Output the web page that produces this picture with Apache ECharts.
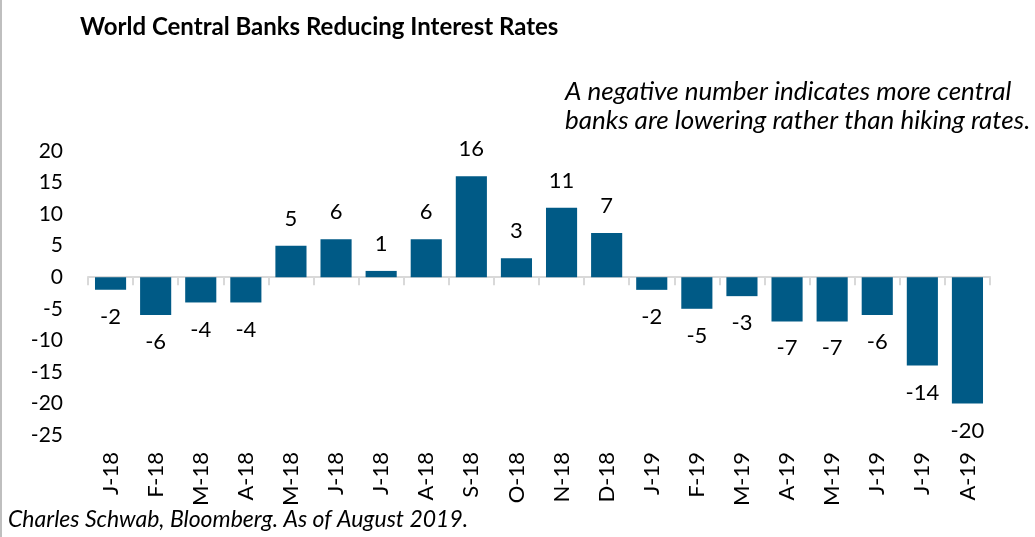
<!DOCTYPE html>
<html><head><meta charset="utf-8">
<script src="https://cdn.jsdelivr.net/npm/echarts@6/dist/echarts.min.js"></script>
<style>html,body{margin:0;padding:0;background:#fff}#c{width:1035px;height:537px}</style>
</head><body><div id="c"></div>
<script>
const categories = ['J-18','F-18','M-18','A-18','M-18','J-18','J-18','A-18','S-18','O-18','N-18','D-18','J-19','F-19','M-19','A-19','M-19','J-19','J-19','A-19'];
const values = [-2,-6,-4,-4,5,6,1,6,16,3,11,7,-2,-5,-3,-7,-7,-6,-14,-20];
const yTicks = {min:-25, max:20, interval:5};
const titleText = 'World Central Banks Reducing Interest Rates';
const noteText = 'A negative number indicates more central\nbanks are lowering rather than hiking rates.';
const sourceText = 'Charles Schwab, Bloomberg. As of August 2019.';

const FONT = 'Lato, "Open Sans", sans-serif';
const chart = echarts.init(document.getElementById('c'));
chart.setOption({
  animation:false,
  textStyle:{fontFamily:FONT},
  grid:{left:88,right:45,top:151,bottom:102,containLabel:false},
  graphic:[
    {type:'rect',shape:{x:0,y:0,width:2,height:537},style:{fill:'#bfbfbf'}},
    {type:'text',left:80,top:15,style:{text:titleText,font:'bold 24px '+FONT,fill:'#000'}},
    {type:'text',left:565,top:77,style:{text:noteText,font:'italic 26px '+FONT,fill:'#000',lineHeight:29}},
    {type:'text',left:8,top:508,style:{text:sourceText,font:'italic 23px '+FONT,fill:'#000'}}
  ],
  xAxis:[
    {type:'category',data:categories,position:'bottom',
     axisLine:{show:false,onZero:false},axisTick:{show:false},
     axisLabel:{rotate:90,fontSize:22,color:'#000',margin:17,interval:0,fontFamily:FONT}},
    {type:'category',data:categories,position:'bottom',
     axisLine:{show:true,onZero:true,lineStyle:{color:'#d9d9d9',width:2}},
     axisTick:{show:true,length:8,lineStyle:{color:'#d9d9d9',width:2}},
     axisLabel:{show:false}}
  ],
  yAxis:{type:'value',min:yTicks.min,max:yTicks.max,interval:yTicks.interval,
    splitLine:{show:false},axisLine:{show:false},axisTick:{show:false},
    axisLabel:{fontSize:21,color:'#000',margin:25,fontFamily:FONT}},
  series:[{type:'bar',xAxisIndex:0,barCategoryGap:'31%',
    itemStyle:{color:'#005a86'},
    data:values.map(v=>({value:v,label:{show:true,position:v>=0?'top':'bottom',distance:16,fontSize:22,color:'#000',fontFamily:FONT}}))
  }]
});
</script></body></html>
